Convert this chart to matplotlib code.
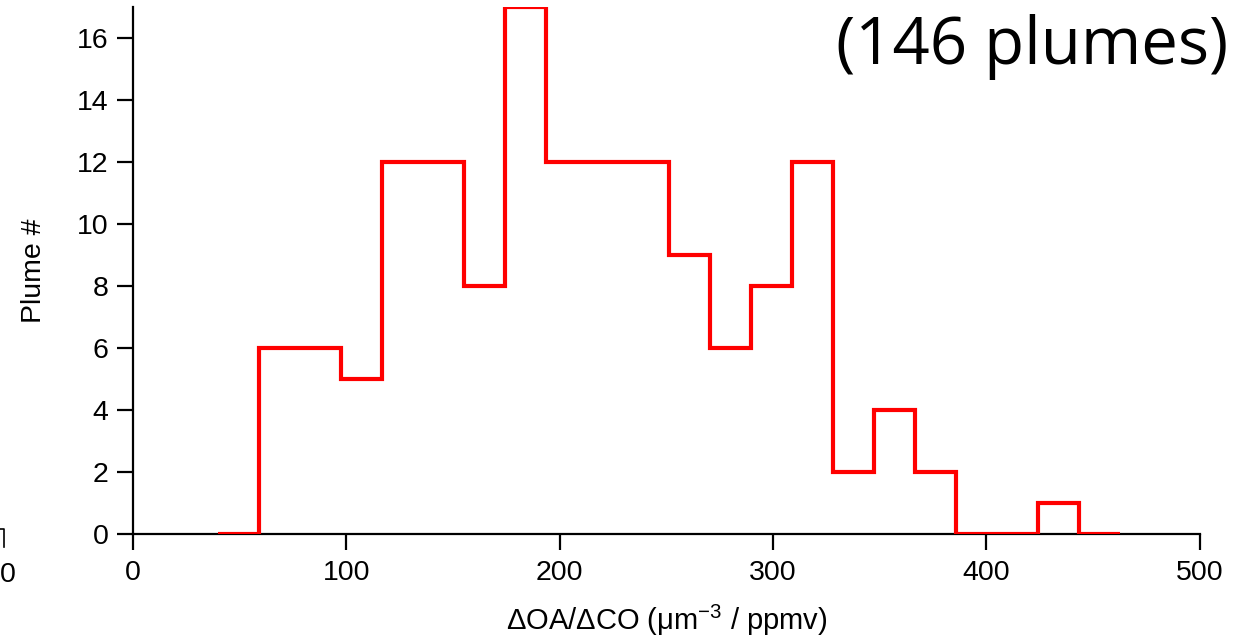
import matplotlib
matplotlib.use("Agg")
import matplotlib.pyplot as plt

# Histogram of plume enhancement ratios
bin_edges = [40.0, 59.2, 78.4, 97.6, 116.8, 136.0, 155.2, 174.4, 193.6, 212.8,
             232.0, 251.2, 270.4, 289.6, 308.8, 328.0, 347.2, 366.4, 385.6,
             404.8, 424.0, 443.2, 462.4]
plume_counts = [0, 6, 6, 5, 12, 12, 8, 17, 12, 12, 12, 9, 6, 8, 12, 2, 4, 2,
                0, 0, 1, 0]
x_ticks = [0, 100, 200, 300, 400, 500]
y_ticks = [0, 2, 4, 6, 8, 10, 12, 14, 16]

plt.rcParams['font.family'] = ['Liberation Sans', 'DejaVu Sans']
plt.rcParams['mathtext.fontset'] = 'custom'
plt.rcParams['mathtext.rm'] = 'Liberation Sans'

fig = plt.figure(figsize=(12.55, 6.42), dpi=100)
ax = fig.add_axes([0.106, 0.168, 0.850, 0.821])

ax.stairs(plume_counts, bin_edges, baseline=None, color='#ff0000',
          linewidth=3.0, zorder=3)

ax.set_xlim(0, 500)
ax.set_ylim(0, 17)
ax.set_xticks(x_ticks)
ax.set_yticks(y_ticks)

for side in ('top', 'right'):
    ax.spines[side].set_visible(False)
for side in ('left', 'bottom'):
    ax.spines[side].set_linewidth(1.6)
ax.spines['bottom'].set_zorder(2)

ax.tick_params(axis='both', direction='out', length=11.5, width=1.6,
               labelsize=20.5, colors='black')
ax.tick_params(axis='y', pad=6)
ax.tick_params(axis='x', pad=7)

ax.set_xlabel('ΔOA/ΔCO (μm$^{\\mathregular{-3}}$ / ppmv)', fontsize=21,
              labelpad=12)
ax.set_ylabel('Plume #', fontsize=20.5, labelpad=22)

fig.text(0.979, 0.927, '(146 plumes)', fontsize=47, family='Open Sans',
         ha='right', va='center')

# Edge of the neighbouring panel's axis labels
fig.text(0.0, 0.105, '0', fontsize=20.5, ha='left', va='center')
fig.add_artist(plt.Line2D([0.0, 0.0035, 0.0035], [0.176, 0.176, 0.148],
                          transform=fig.transFigure, color='black',
                          linewidth=1.2))

fig.savefig('out.png', dpi=100)
